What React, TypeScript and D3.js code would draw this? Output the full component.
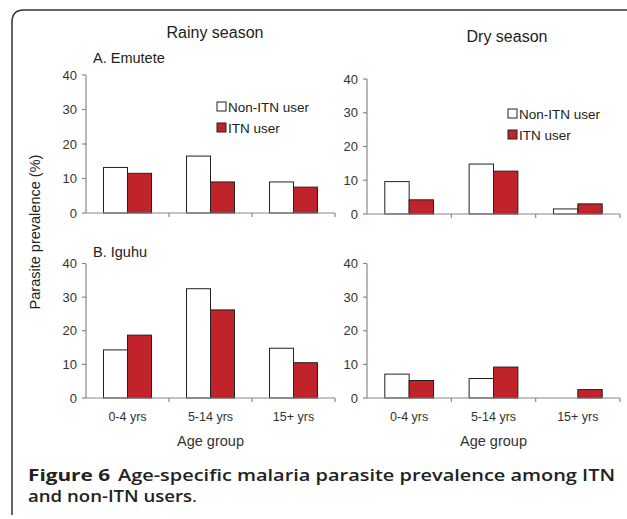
import React from 'react';
import * as d3 from 'd3';

const ageGroups = ['0-4 yrs', '5-14 yrs', '15+ yrs'];
const seriesNames = ['Non-ITN user', 'ITN user'];
const yTicks = [0, 10, 20, 30, 40];

// values read per panel: [Non-ITN, ITN] by age group
const emuteteRainy = [[13.2, 11.5], [16.5, 9.0], [9.0, 7.5]];
const emuteteDry = [[9.6, 4.2], [14.8, 12.7], [1.5, 3.0]];
const iguhuRainy = [[14.3, 18.7], [32.5, 26.2], [14.8, 10.5]];
const iguhuDry = [[7.1, 5.2], [5.8, 9.2], [0, 2.5]];

const colors = ['#ffffff', '#c1232b'];
const font = "'Liberation Sans', Arial, sans-serif";
const capFont = "'Open Sans', sans-serif";

type PanelProps = {
  data: number[][];
  x0: number;
  x1: number;
  yTop: number;
  yBottom: number;
  showCats: boolean;
  legend?: { x: number; y: number };
};

const Panel = ({ data, x0, x1, yTop, yBottom, showCats, legend }: PanelProps) => {
  const x = d3.scaleBand().domain(ageGroups).range([x0, x1]).padding(0);
  const xs = d3.scaleBand().domain(seriesNames).range([0, x.bandwidth()]).paddingInner(0).paddingOuter(0.73);
  const y = d3.scaleLinear().domain([0, 40]).range([yBottom, yTop]);
  const bounds = [0, 1, 2, 3].map(i => x0 + i * x.step());

  return (
    <g>
      {ageGroups.map((g, gi) =>
        seriesNames.map((s, si) => {
          const v = data[gi][si];
          if (v <= 0) return null;
          return (
            <rect key={g + s}
              x={(x(g) ?? 0) + (xs(s) ?? 0)}
              y={y(v)}
              width={xs.bandwidth()}
              height={y(0) - y(v)}
              fill={colors[si]}
              stroke="#222"
              strokeWidth={1} />
          );
        })
      )}
      <line x1={x0} x2={x0} y1={y(40)} y2={y(0)} stroke="#888" strokeWidth={1.2} />
      <line x1={x0} x2={x1} y1={y(0)} y2={y(0)} stroke="#888" strokeWidth={1.2} />
      {yTicks.map(t => (
        <g key={t}>
          <line x1={x0 - 4} x2={x0} y1={y(t)} y2={y(t)} stroke="#888" strokeWidth={1.2} />
          <text x={x0 - 9} y={y(t)} dy="0.35em" textAnchor="end" fontSize={13} fill="#333" fontFamily={font}>{t}</text>
        </g>
      ))}
      {bounds.slice(1).map((b, i) => (
        <line key={i} x1={b} x2={b} y1={y(0)} y2={y(0) + 4} stroke="#888" strokeWidth={1.2} />
      ))}
      {showCats && ageGroups.map(g => (
        <text key={g} x={(x(g) ?? 0) + x.bandwidth() / 2} y={y(0) + 23} textAnchor="middle" fontSize={12.5} fill="#333" fontFamily={font}>{g}</text>
      ))}
      {showCats && (
        <text x={(x0 + x1) / 2} y={y(0) + 48} textAnchor="middle" fontSize={14.5} fill="#333" fontFamily={font}>Age group</text>
      )}
      {legend && seriesNames.map((s, i) => (
        <g key={s}>
          <rect x={legend.x} y={legend.y + i * 21 - 5} width={9} height={9} fill={colors[i]} stroke="#222" strokeWidth={1} />
          <text x={legend.x + 11} y={legend.y + i * 21} dy="0.35em" fontSize={13.5} fill="#222" fontFamily={font}>{s}</text>
        </g>
      ))}
    </g>
  );
};

const App = () => {
  return (
    <svg width={627} height={519} style={{ position: 'absolute', left: 0, top: 0 }}>
      <rect x={0} y={0} width={627} height={519} fill="#fff" />
      <path d="M 640 10 L 24 10 Q 12 10 12 22 L 12 515" fill="none" stroke="#333" strokeWidth={1.5} />
      <text x={215} y={38} textAnchor="middle" fontSize={16} fill="#222" fontFamily={font}>Rainy season</text>
      <text x={507} y={42} textAnchor="middle" fontSize={16} fill="#222" fontFamily={font}>Dry season</text>
      <text x={93} y={63} fontSize={14.5} fill="#222" fontFamily={font}>A. Emutete</text>
      <text x={93} y={257} fontSize={14.5} fill="#222" fontFamily={font}>B. Iguhu</text>
      <text transform="translate(40,232) rotate(-90)" textAnchor="middle" fontSize={14.5} fill="#222" fontFamily={font}>Parasite prevalence (%)</text>
      <Panel data={emuteteRainy} x0={86} x1={335} yTop={75} yBottom={213} showCats={false} legend={{ x: 217, y: 107 }} />
      <Panel data={emuteteDry} x0={367} x1={620} yTop={79} yBottom={214} showCats={false} legend={{ x: 508, y: 114 }} />
      <Panel data={iguhuRainy} x0={86} x1={335} yTop={263.5} yBottom={398} showCats={true} />
      <Panel data={iguhuDry} x0={367} x1={620} yTop={263.5} yBottom={398} showCats={true} />
      <text x={28} y={480.5} fontSize={16} fill="#222" fontWeight={700} fontFamily={capFont} textLength={82} lengthAdjust="spacingAndGlyphs">Figure 6</text>
      <text x={118} y={480.5} fontSize={16} fill="#222" fontWeight={600} fontFamily={capFont} textLength={497} lengthAdjust="spacingAndGlyphs">Age-specific malaria parasite prevalence among ITN</text>
      <text x={28} y={502} fontSize={16} fill="#222" fontWeight={600} fontFamily={capFont} textLength={169} lengthAdjust="spacingAndGlyphs">and non-ITN users<tspan fontWeight={400}>.</tspan></text>
    </svg>
  );
};

export default App;
